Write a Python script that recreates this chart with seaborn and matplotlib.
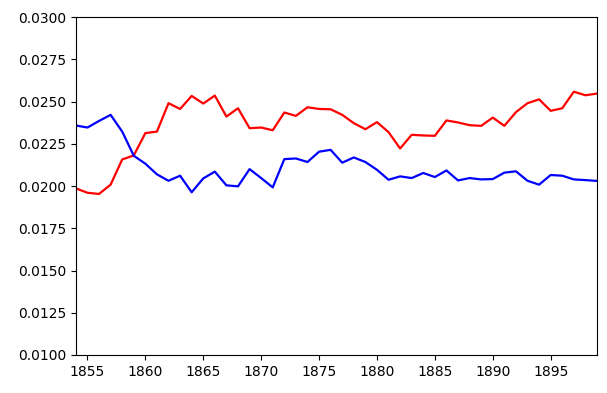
import matplotlib
matplotlib.use("Agg")
import matplotlib.pyplot as plt
import seaborn as sns
import pandas as pd
import numpy as np

years = list(range(1854, 1900))
red_values = [0.01986, 0.0196, 0.01953, 0.02008, 0.02157, 0.02181, 0.02313, 0.02322, 0.0249, 0.02456,
              0.02533, 0.02488, 0.02535, 0.02411, 0.0246, 0.02342, 0.02346, 0.0233, 0.02435, 0.02415,
              0.02466, 0.02456, 0.02454, 0.02421, 0.02372, 0.02336, 0.02378, 0.02319, 0.02222, 0.02303,
              0.02299, 0.02297, 0.02388, 0.02376, 0.0236, 0.02356, 0.02405, 0.02356, 0.02437, 0.0249,
              0.02513, 0.02445, 0.0246, 0.02558, 0.02537, 0.02547]
blue_values = [0.02358, 0.02346, 0.02385, 0.02421, 0.02322, 0.02179, 0.02132, 0.02069, 0.02031, 0.02061,
               0.01963, 0.02045, 0.02085, 0.02004, 0.01998, 0.021, 0.02047, 0.01992, 0.02159, 0.02163,
               0.02142, 0.02203, 0.02214, 0.02138, 0.02169, 0.02142, 0.02096, 0.02037, 0.02057, 0.02047,
               0.02077, 0.02053, 0.02092, 0.02033, 0.02047, 0.02039, 0.02041, 0.02079, 0.02087, 0.02031,
               0.02008, 0.02065, 0.02061, 0.02039, 0.02035, 0.0203]

sns.set_style("ticks")
plt.rcParams['font.family'] = ['DejaVu Sans']

fig, ax = plt.subplots(figsize=(6.07, 3.93), dpi=100)
fig.subplots_adjust(left=0.125, right=0.9835, bottom=0.0967, top=0.9567)

df = pd.DataFrame({"year": years, "red": red_values, "blue": blue_values})
sns.lineplot(data=df, x="year", y="red", color="red", linewidth=1.6, ax=ax)
sns.lineplot(data=df, x="year", y="blue", color="blue", linewidth=1.6, ax=ax)

ax.set_xlim(1854, 1899)
ax.set_ylim(0.01, 0.03)
ax.set_xticks(list(range(1855, 1900, 5)))
ax.set_yticks(np.arange(0.01, 0.03001, 0.0025))
ax.yaxis.set_major_formatter(matplotlib.ticker.FormatStrFormatter('%.4f'))
ax.set_xlabel("")
ax.set_ylabel("")
for s in ax.spines.values():
    s.set_visible(True)
    s.set_color("black")
    s.set_linewidth(0.8)
ax.tick_params(labelsize=10, color="black", labelcolor="black")

fig.savefig("out.png", dpi=100)
